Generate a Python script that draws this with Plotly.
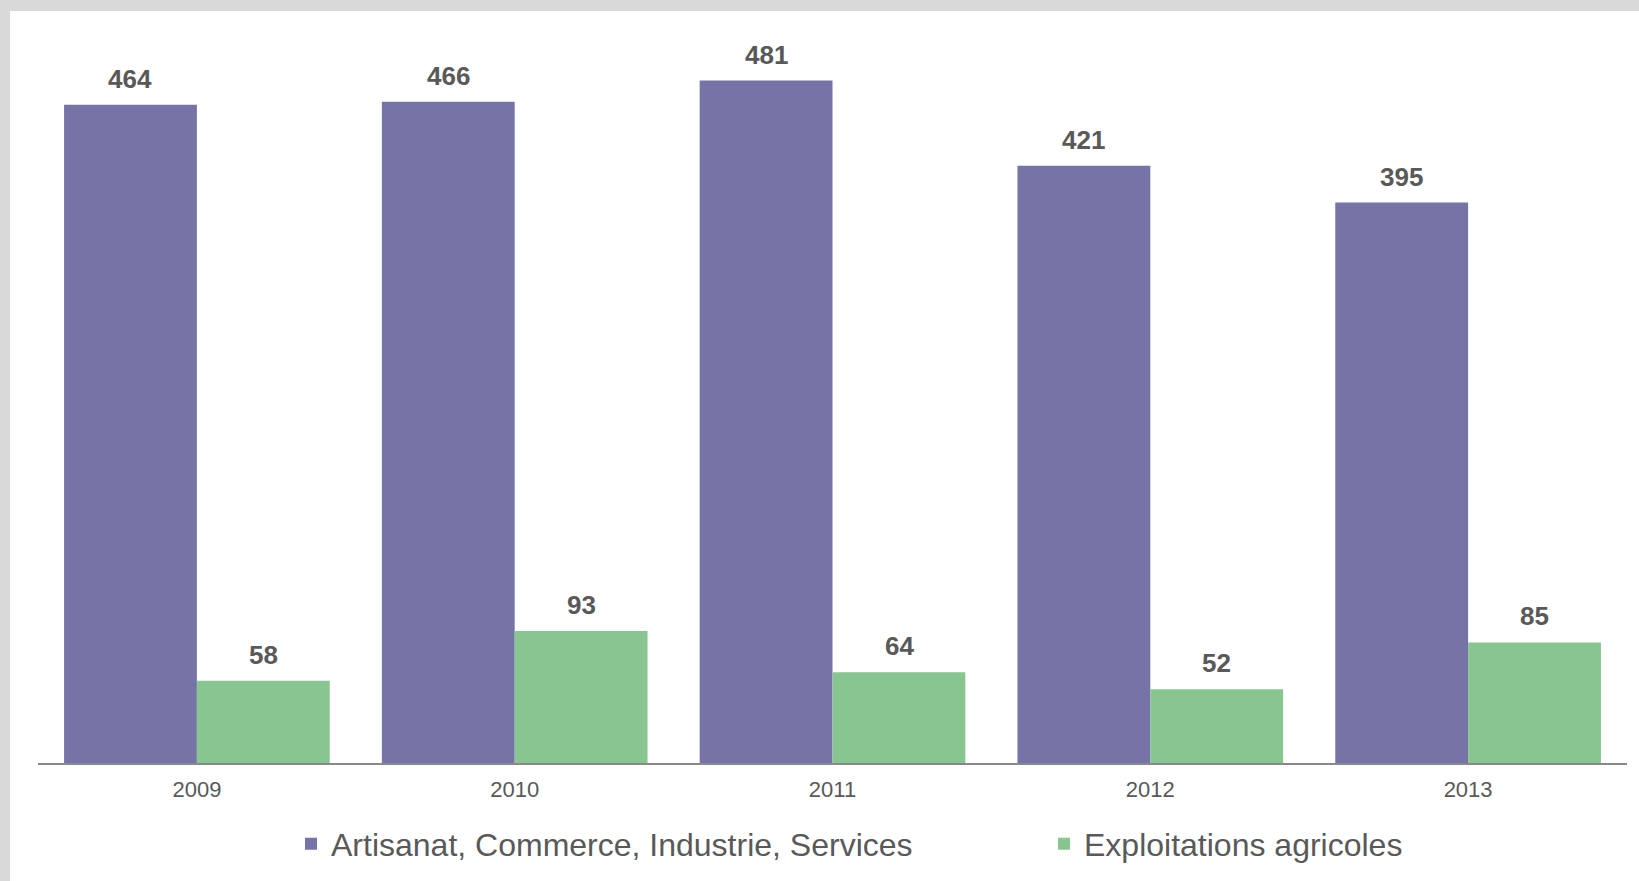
import plotly.graph_objects as go

years = ["2009", "2010", "2011", "2012", "2013"]
artisanat = [464, 466, 481, 421, 395]
agricoles = [58, 93, 64, 52, 85]
series_names = ["Artisanat, Commerce, Industrie, Services", "Exploitations agricoles"]

purple = "#7674A6"
green = "#89C591"
text_grey = "#595959"

fig = go.Figure()
fig.add_trace(go.Bar(x=years, y=artisanat, name=series_names[0],
                     marker=dict(color=purple, line_width=0)))
fig.add_trace(go.Bar(x=years, y=agricoles, name=series_names[1],
                     marker=dict(color=green, line_width=0)))

# value labels above each bar (category index, since year strings look numeric)
for vals, shift in [(artisanat, -66.5), (agricoles, 66.5)]:
    for i, v in enumerate(vals):
        fig.add_annotation(x=i, y=v, text=f"<b>{v}</b>", showarrow=False,
                           xshift=shift, yshift=9, yanchor="bottom",
                           font=dict(family="Liberation Sans, Arial", size=26, color=text_grey))

# grey frame on the top and left edges
fig.add_shape(type="rect", xref="paper", yref="paper", layer="below",
              x0=(10 - 38) / 1589, x1=(1650 - 38) / 1589,
              y0=(763 - 890) / 752, y1=1.0,
              fillcolor="white", line_width=0)

fig.update_layout(
    width=1639, height=881,
    margin=dict(l=38, r=12, t=11, b=118, autoexpand=False),
    barmode="group", bargap=0.164, bargroupgap=0,
    paper_bgcolor="#D9D9D9", plot_bgcolor="white",
    font=dict(family="Liberation Sans, Arial", color=text_grey),
    legend=dict(orientation="h", x=(291 - 38) / 1589, xanchor="left",
                y=(763 - 844) / 752, yanchor="middle",
                entrywidth=708, entrywidthmode="pixels",
                font=dict(family="Liberation Sans, Arial", size=32, color=text_grey),
                bgcolor="rgba(0,0,0,0)"),
    xaxis=dict(type="category", showline=True, linecolor="#898989", linewidth=2, ticks="",
               ticklabelstandoff=6,
               tickfont=dict(size=22, color=text_grey), showgrid=False),
    yaxis=dict(range=[0, 530], visible=False, showgrid=False),
)

fig.write_html("out.html", config={"displayModeBar": False},
               post_script="document.body.style.margin='0';")
